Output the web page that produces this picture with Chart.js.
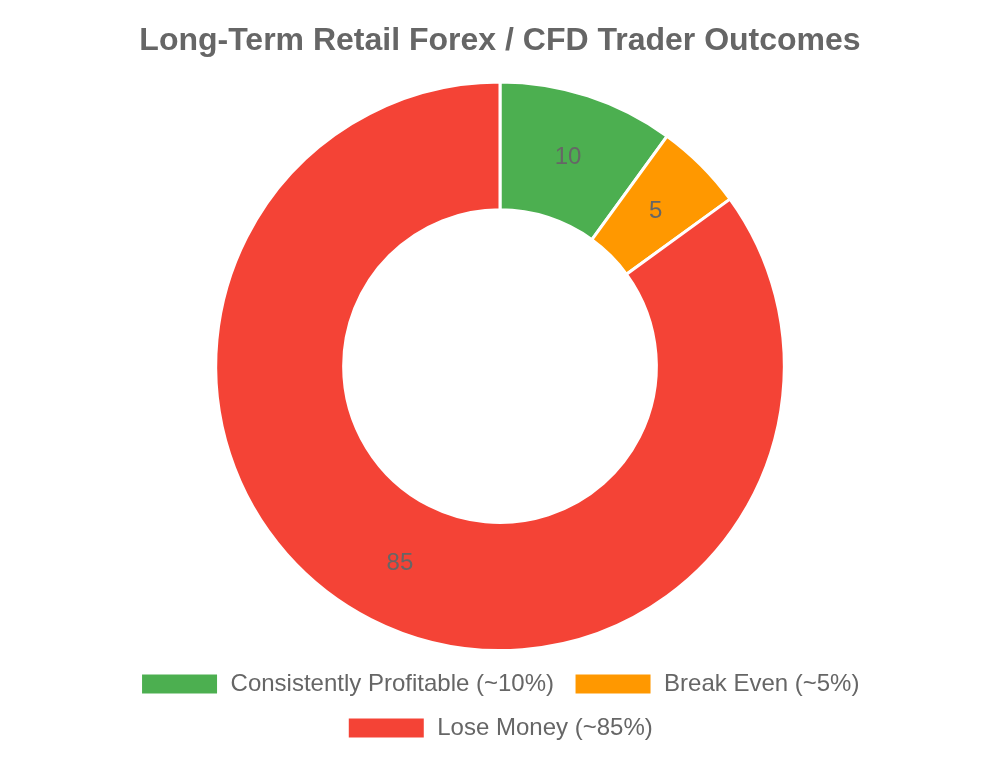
<!DOCTYPE html>
<html>
<head>
<meta charset="utf-8">
<script src="https://cdn.jsdelivr.net/npm/chart.js@4.4.0/dist/chart.umd.min.js"></script>
<style>
  html, body { margin: 0; padding: 0; background: #fff; }
  #wrap { width: 1000px; height: 760px; }
</style>
</head>
<body>
<div id="wrap"><canvas id="grafico"></canvas></div>
<script>
const rotulos = [
  "Consistently Profitable (~10%)",
  "Break Even (~5%)",
  "Lose Money (~85%)",
];
const valores = [10, 5, 85];
const cores = ["#4caf50", "#ff9800", "#f44336"];

// valores dentro das fatias (sem plugin externo)
const rotuloFatias = {
  id: "rotuloFatias",
  afterDatasetsDraw(chart) {
    const { ctx } = chart;
    const meta = chart.getDatasetMeta(0);
    ctx.save();
    ctx.font = "24px 'Liberation Sans', Arial, sans-serif";
    ctx.fillStyle = "#666";
    ctx.textAlign = "center";
    ctx.textBaseline = "middle";
    meta.data.forEach((arco, i) => {
      const p = arco.tooltipPosition();
      ctx.fillText(String(valores[i]), p.x, p.y + 1);
    });
    ctx.restore();
  },
};

Chart.defaults.font.family = "'Liberation Sans', Arial, sans-serif";
Chart.defaults.color = "#666";

new Chart(document.getElementById("grafico"), {
  type: "doughnut",
  data: {
    labels: rotulos,
    datasets: [
      {
        data: valores,
        backgroundColor: cores,
        borderColor: "#fff",
        borderWidth: 3,
      },
    ],
  },
  options: {
    responsive: true,
    maintainAspectRatio: false,
    animation: false,
    cutout: "55%",
    layout: { padding: { top: 0, bottom: 10 } },
    plugins: {
      title: {
        display: true,
        text: "Long-Term Retail Forex / CFD Trader Outcomes",
        font: { size: 32, weight: "bold" },
        color: "#666",
        padding: { top: 22, bottom: 20 },
      },
      legend: {
        position: "bottom",
        labels: {
          font: { size: 24 },
          color: "#666",
          boxWidth: 78,
          boxHeight: 22,
          padding: 20,
        },
      },
      tooltip: { enabled: false },
    },
  },
  plugins: [rotuloFatias],
});
</script>
</body>
</html>
